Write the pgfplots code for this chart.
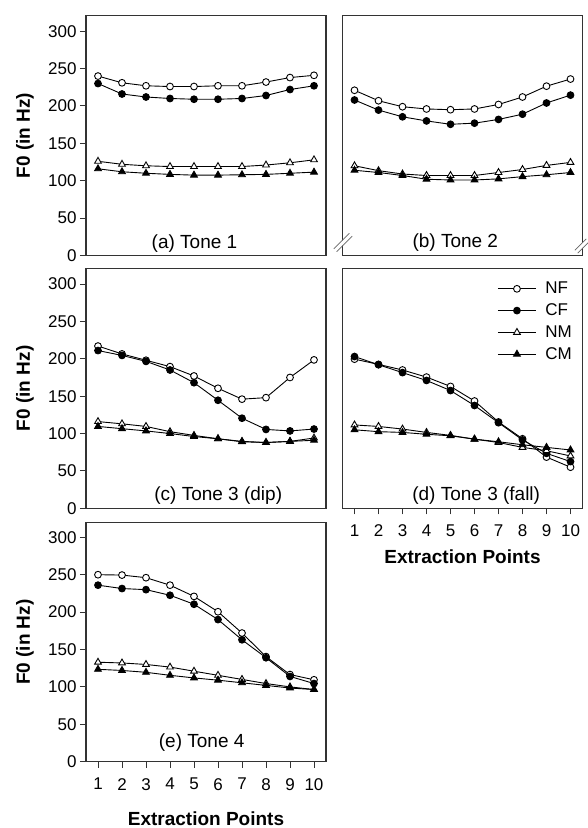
\documentclass[border=0pt]{standalone}
\usepackage{fontspec}
\setmainfont{Liberation Sans}
\usepackage{pgfplots}
\usepackage{pgfplotstable}
\pgfplotsset{compat=1.18}

\newcommand\tickfont{\fontsize{17}{18.5}\selectfont}
\newcommand\labfont{\fontsize{19}{20.5}\selectfont}

% columns: extraction point, NF, CF, NM, CM
\pgfplotstableread{
x NF CF NM CM
1 240 230 126 116
2 231 216 122 112
3 227 212 120 110
4 226 210 119 108.5
5 226 209 119 107.5
6 227 209 119 107.5
7 227 210 119 108
8 232 214 121 108.5
9 238 222 124 110
10 241 227 128 111.5
}\toneA
\pgfplotstableread{
x NF CF NM CM
1 221 208 120 114
2 207 194.5 113.5 111
3 199 185.5 109 107
4 196 180 107 102
5 195 175.5 107 101
6 196 177 107 101
7 202 182 111 102.5
8 212 189 115 105.5
9 226.5 204 120.5 108
10 236 214.5 124.5 111
}\toneB
\pgfplotstableread{
x NF CF NM CM
1 217 211 116 109.5
2 206.5 204.5 113 106.5
3 198 196.5 109.5 103.5
4 189.5 185 102.5 100
5 177 168 97.5 96
6 160.5 144.5 93 93
7 146 120.5 89.5 89
8 148 105.5 88 88
9 175 103.5 89.5 89.5
10 198.5 106 94 91
}\toneC
\pgfplotstableread{
x NF CF NM CM
1 199.5 203 111.5 105
2 192.5 192 109.5 102.5
3 185 181.5 106 101.5
4 175.5 171 101.5 99
5 163 157.5 97.5 97
6 143.5 137.5 92.5 92.5
7 115.5 114.5 88 89
8 93 91.5 81.5 85
9 68.5 73.5 77 81.5
10 55 62.5 70 78
}\toneD
\pgfplotstableread{
x NF CF NM CM
1 250 236 133 123.5
2 249.5 231.5 132 122
3 246 230 130 119.5
4 236 222.5 126.5 115.5
5 221 210.5 121 112
6 200.5 190 115.5 109
7 172 163 110 105.5
8 140.5 139 104.5 102
9 116.5 114 100 98.5
10 109.5 104.5 96.5 96.5
}\toneE

\pgfplotsset{
  panel/.style={
    scale only axis, width=240pt, height=240pt,
    xmin=0.5, xmax=10.5, ymin=0, ymax=321,
    axis line style={line width=1.1pt, black!80},
    tick style={line width=1pt, black!80},
    major tick length=6pt,
    tick align=outside,
    xtick={1,...,10}, ytick={0,50,...,300},
    tick label style={font=\tickfont},
    /pgf/number format/assume math mode=true,
    xtick pos=left, ytick pos=left,
    label style={font=\bfseries\labfont},
    xticklabel style={yshift=-7pt},
    clip=false,
  },
  yside/.style={ylabel={F0 (in Hz)},
    ylabel style={at={(axis description cs:-0.254,0.5)}, anchor=center}},
  noy/.style={ytick=\empty},
  nox/.style={xtick=\empty},
  sNF/.style={black, line width=0.9pt, mark=*, mark size=3.4pt, mark options={fill=white, line width=0.9pt}},
  sCF/.style={black, line width=0.9pt, mark=*, mark size=3.4pt, mark options={fill=black, line width=0.9pt}},
  sNM/.style={black, line width=0.9pt, mark=triangle*, mark size=3.9pt, mark options={fill=white, line width=0.9pt}},
  sCM/.style={black, line width=0.9pt, mark=triangle*, mark size=3.9pt, mark options={fill=black, line width=0.9pt}},
}

\newcommand\fourseries[1]{%
  \addplot[sNF] table[x=x, y=NF] {#1};
  \addplot[sCF] table[x=x, y=CF] {#1};
  \addplot[sNM] table[x=x, y=NM] {#1};
  \addplot[sCM] table[x=x, y=CM] {#1};
}

\begin{document}
\begin{tikzpicture}
\useasboundingbox (0pt,0pt) rectangle (587pt,-828pt);

% (a)
\begin{axis}[panel, yside, nox, at={(86pt,-255.5pt)}]
  \fourseries{\toneA}
  \node[anchor=base, font=\labfont] at (axis cs:5.02,9.6) {(a) Tone 1};
\end{axis}

% (b)
\begin{axis}[panel, noy, nox, at={(342.5pt,-255.5pt)}]
  \fourseries{\toneB}
  \node[anchor=base, font=\labfont] at (axis cs:5.2,10.4) {(b) Tone 2};
\end{axis}

% (c)
\begin{axis}[panel, yside, nox, at={(86pt,-508.3pt)}]
  \fourseries{\toneC}
  \node[anchor=base, font=\labfont] at (axis cs:6.01,10) {(c) Tone 3 (dip)};
\end{axis}

% (d)
\begin{axis}[panel, noy, at={(342.5pt,-508.3pt)},
    xlabel={Extraction Points},
    xlabel style={at={(axis description cs:0.5,0)}, anchor=center, yshift=-48.7pt},
    legend cell align=left,
    legend image code/.code={\draw[mark repeat=2, mark phase=2] plot coordinates {(0pt,0pt) (19pt,0pt) (38pt,0pt)};},
    legend style={draw=none, fill=none, at={(rel axis cs:0.645,0.947)}, anchor=north west,
      inner sep=0pt, row sep=6.5pt, column sep=8pt, font=\tickfont, nodes={inner sep=1pt}}]
  \fourseries{\toneD}
  \legend{NF,CF,NM,CM}
  \node[anchor=base, font=\labfont] at (axis cs:6.07,10.7) {(d) Tone 3 (fall)};
\end{axis}

% (e)
\begin{axis}[panel, yside, at={(86pt,-761.7pt)}, height=239pt, ymax=319.5,
    xlabel={Extraction Points},
    xlabel style={at={(axis description cs:0.5,0)}, anchor=center, yshift=-56.6pt}]
  \fourseries{\toneE}
  \node[anchor=base, font=\labfont] at (axis cs:5.32,19.2) {(e) Tone 4};
\end{axis}

% axis break marks on panel (b)
\draw[white, line width=3.5pt] (335.2pt,-250.3pt) -- (350.8pt,-234.7pt);
\draw[black!60, line width=0.7pt] (336.6pt,-251.7pt) -- (352.2pt,-236.1pt);
\draw[black!60, line width=0.7pt] (333.8pt,-248.9pt) -- (349.4pt,-233.3pt);
\draw[white, line width=3.5pt] (576.3pt,-251.7pt) -- (587.6pt,-240.3pt);
\draw[black!60, line width=0.7pt] (577.7pt,-253.1pt) -- (589.1pt,-241.7pt);
\draw[black!60, line width=0.7pt] (574.9pt,-250.3pt) -- (586.3pt,-238.9pt);
\end{tikzpicture}
\end{document}
